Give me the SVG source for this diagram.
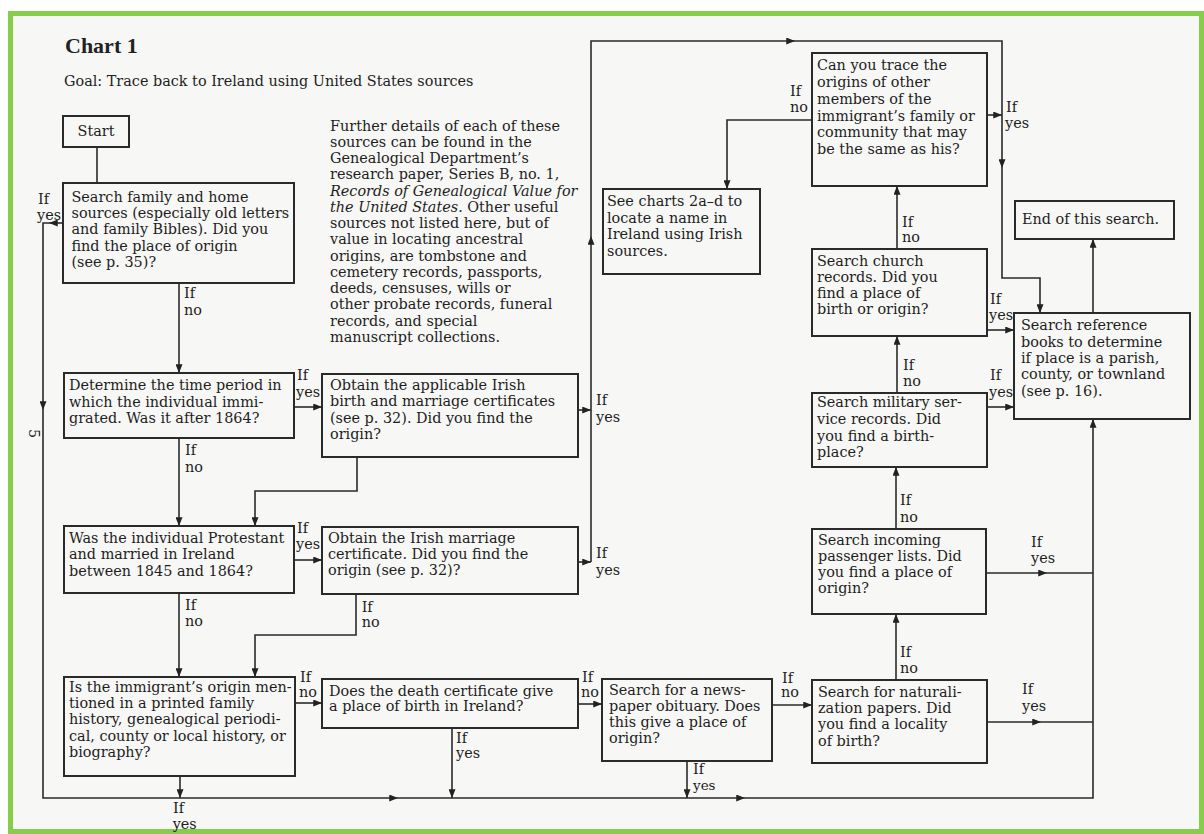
<svg xmlns="http://www.w3.org/2000/svg" width="1204" height="834" viewBox="0 0 1204 834">
<defs>
<marker id="ah" viewBox="0 0 10 8" markerWidth="9" markerHeight="7" refX="10" refY="4" orient="auto" markerUnits="userSpaceOnUse"><path d="M0,0 L10,4 L0,8 z" fill="#222"/></marker>
<style>
.bx{fill:none;stroke:#2a2a2a;stroke-width:2}
.t{font-family:"DejaVu Serif","Liberation Serif",serif;font-size:14.4px;fill:#1e1e1e}
.c{fill:none;stroke:#2a2a2a;stroke-width:1.6}
.a{marker-end:url(#ah)}
.it{font-style:italic}
</style>
</defs>
<rect x="0" y="0" width="1204" height="834" fill="#ffffff"/>
<rect x="10.5" y="13.5" width="1191" height="818" fill="#f7f7f5" stroke="#88cc4c" stroke-width="5"/>

<g id="title">
<text x="65" y="53" font-family="Liberation Serif, serif" font-weight="bold" font-size="22" fill="#222">Chart 1</text>
<text class="t" x="64" y="86">Goal: Trace back to Ireland using United States sources</text>
</g>

<g id="note" class="t">
<text x="330" y="130.7">Further details of each of these</text>
<text x="330" y="147">sources can be found in the</text>
<text x="330" y="163.2">Genealogical Department’s</text>
<text x="330" y="179.4">research paper, Series B, no. 1,</text>
<text x="330" y="195.6" class="it">Records of Genealogical Value for</text>
<text x="330" y="211.9"><tspan class="it">the United States</tspan>. Other useful</text>
<text x="330" y="228.1">sources not listed here, but of</text>
<text x="330" y="244.3">value in locating ancestral</text>
<text x="330" y="260.6">origins, are tombstone and</text>
<text x="330" y="276.8">cemetery records, passports,</text>
<text x="330" y="293">deeds, censuses, wills or</text>
<text x="330" y="309.3">other probate records, funeral</text>
<text x="330" y="325.5">records, and special</text>
<text x="330" y="341.7">manuscript collections.</text>
</g>

<text class="t" font-size="11" transform="translate(29,429) rotate(90)">5</text>

<g id="start"><rect class="bx" x="63" y="116" width="66" height="31"/><text class="t" x="96" y="136" text-anchor="middle">Start</text></g>

<g id="home"><rect class="bx" x="63" y="183" width="231" height="100"/>
<text class="t"><tspan x="71.5" y="201.7">Search family and home</tspan><tspan x="71.5" y="218.3">sources (especially old letters</tspan><tspan x="71.5" y="234.3">and family Bibles). Did you</tspan><tspan x="71.5" y="250.7">find the place of origin</tspan><tspan x="71.5" y="266.7">(see p. 35)?</tspan></text></g>

<g id="period"><rect class="bx" x="64" y="373" width="230" height="65"/>
<text class="t"><tspan x="69" y="390">Determine the time period in</tspan><tspan x="69" y="406.7">which the individual immi-</tspan><tspan x="69" y="423.3">grated. Was it after 1864?</tspan></text></g>

<g id="protestant"><rect class="bx" x="64" y="526" width="230" height="67"/>
<text class="t"><tspan x="69" y="542.7">Was the individual Protestant</tspan><tspan x="69" y="559.3">and married in Ireland</tspan><tspan x="69" y="576">between 1845 and 1864?</tspan></text></g>

<g id="printed"><rect class="bx" x="64" y="677" width="231" height="99"/>
<text class="t"><tspan x="69" y="691.7">Is the immigrant’s origin men-</tspan><tspan x="69" y="708.3">tioned in a printed family</tspan><tspan x="69" y="724.3">history, genealogical periodi-</tspan><tspan x="69" y="740.7">cal, county or local history, or</tspan><tspan x="69" y="757.3">biography?</tspan></text></g>

<g id="birthmarriage"><rect class="bx" x="322" y="374" width="256" height="83"/>
<text class="t"><tspan x="330" y="390">Obtain the applicable Irish</tspan><tspan x="330" y="406">birth and marriage certificates</tspan><tspan x="330" y="422.7">(see p. 32). Did you find the</tspan><tspan x="330" y="439">origin?</tspan></text></g>

<g id="marriage"><rect class="bx" x="322" y="527" width="256" height="67"/>
<text class="t"><tspan x="328" y="543">Obtain the Irish marriage</tspan><tspan x="328" y="559">certificate. Did you find the</tspan><tspan x="328" y="575">origin (see p. 32)?</tspan></text></g>

<g id="death"><rect class="bx" x="322" y="679" width="256" height="49"/>
<text class="t"><tspan x="329" y="696">Does the death certificate give</tspan><tspan x="329" y="711">a place of birth in Ireland?</tspan></text></g>

<g id="obituary"><rect class="bx" x="602" y="679" width="170" height="82"/>
<text class="t"><tspan x="609" y="695">Search for a news-</tspan><tspan x="609" y="711">paper obituary. Does</tspan><tspan x="609" y="727">this give a place of</tspan><tspan x="609" y="743">origin?</tspan></text></g>

<g id="naturalization"><rect class="bx" x="812" y="680" width="175" height="83"/>
<text class="t"><tspan x="818" y="697">Search for naturali-</tspan><tspan x="818" y="713">zation papers. Did</tspan><tspan x="818" y="729">you find a locality</tspan><tspan x="818" y="746">of birth?</tspan></text></g>

<g id="passenger"><rect class="bx" x="812" y="529" width="174" height="85"/>
<text class="t"><tspan x="818" y="545">Search incoming</tspan><tspan x="818" y="561">passenger lists. Did</tspan><tspan x="818" y="577">you find a place of</tspan><tspan x="818" y="593">origin?</tspan></text></g>

<g id="military"><rect class="bx" x="812" y="393" width="175" height="74"/>
<text class="t"><tspan x="817" y="407">Search military ser-</tspan><tspan x="817" y="424">vice records. Did</tspan><tspan x="817" y="441">you find a birth-</tspan><tspan x="817" y="457">place?</tspan></text></g>

<g id="church"><rect class="bx" x="812" y="249" width="175" height="87"/>
<text class="t"><tspan x="817" y="265.7">Search church</tspan><tspan x="817" y="281.7">records. Did you</tspan><tspan x="817" y="297.7">find a place of</tspan><tspan x="817" y="314">birth or origin?</tspan></text></g>

<g id="family"><rect class="bx" x="812" y="53" width="175" height="133"/>
<text class="t"><tspan x="817" y="70">Can you trace the</tspan><tspan x="817" y="87">origins of other</tspan><tspan x="817" y="104">members of the</tspan><tspan x="817" y="120.7">immigrant’s family or</tspan><tspan x="817" y="137.3">community that may</tspan><tspan x="817" y="154">be the same as his?</tspan></text></g>

<g id="charts"><rect class="bx" x="603" y="189" width="157" height="85"/>
<text class="t"><tspan x="607" y="205.7">See charts 2a–d to</tspan><tspan x="607" y="222.7">locate a name in</tspan><tspan x="607" y="239.3">Ireland using Irish</tspan><tspan x="607" y="256">sources.</tspan></text></g>

<g id="reference"><rect class="bx" x="1014" y="313" width="176" height="106"/>
<text class="t"><tspan x="1021" y="330">Search reference</tspan><tspan x="1021" y="346.7">books to determine</tspan><tspan x="1021" y="362.7">if place is a parish,</tspan><tspan x="1021" y="379.3">county, or townland</tspan><tspan x="1021" y="396">(see p. 16).</tspan></text></g>

<g id="end"><rect class="bx" x="1015" y="201" width="159" height="38"/>
<text class="t" x="1022" y="224">End of this search.</text></g>

<g id="connectors">
<path class="c" d="M97 147 V183"/>
<path class="c a" d="M179 283 V373"/>
<path class="c a" d="M63 223 H49"/>
<path class="c a" d="M49 223 H43 V410"/>
<path class="c a" d="M43 410 V798 H398"/>
<path class="c a" d="M398 798 H745"/>
<path class="c a" d="M745 798 H1093 V419"/>
<path class="c a" d="M294 407 H322"/>
<path class="c a" d="M179 438 V526"/>
<path class="c a" d="M357 457 V491 H255 V526"/>
<path class="c a" d="M294 560 H322"/>
<path class="c a" d="M179 593 V677"/>
<path class="c a" d="M356 594 V635 H255 V677"/>
<path class="c a" d="M180 776 V798"/>
<path class="c a" d="M295 703 H322"/>
<path class="c a" d="M452 728 V798"/>
<path class="c a" d="M578 704 H602"/>
<path class="c a" d="M687 761 V798"/>
<path class="c a" d="M772 705 H812"/>
<path class="c a" d="M987 722 H1041"/>
<path class="c" d="M1041 722 H1093"/>
<path class="c a" d="M896 680 V614"/>
<path class="c a" d="M986 573 H1047"/>
<path class="c" d="M1047 573 H1093"/>
<path class="c a" d="M896 529 V467"/>
<path class="c a" d="M987 407 H1014"/>
<path class="c a" d="M897 393 V336"/>
<path class="c a" d="M987 330 H1014"/>
<path class="c a" d="M897 249 V186"/>
<path class="c a" d="M812 120 H727 V189"/>
<path class="c a" d="M987 115 H1002"/>
<path class="c a" d="M578 410 H591"/>
<path class="c a" d="M578 562 H591"/>
<path class="c a" d="M591 562 V236"/>
<path class="c a" d="M591 236 V41 H795"/>
<path class="c a" d="M795 41 H1002 V168"/>
<path class="c a" d="M1002 168 V278 H1040 V313"/>
<path class="c a" d="M1093 313 V239"/>

<g class="t">
<text x="184" y="298">If</text><text x="184" y="315">no</text>
<text x="38" y="204">If</text><text x="37" y="220">yes</text>
<text x="297" y="380">If</text><text x="296" y="396.7">yes</text>
<text x="185" y="455">If</text><text x="185" y="471.7">no</text>
<text x="297" y="533">If</text><text x="296" y="548.5">yes</text>
<text x="185" y="610">If</text><text x="185" y="626">no</text>
<text x="361.7" y="611.7">If</text><text x="361.7" y="627">no</text>
<text x="173" y="813">If</text><text x="172.7" y="829">yes</text>
<text x="300" y="682">If</text><text x="299" y="697">no</text>
<text x="456" y="743">If</text><text x="456" y="758">yes</text>
<text x="582" y="682">If</text><text x="581" y="697">no</text>
<text x="693" y="774">If</text><text x="693" y="790" font-size="13.5">yes</text>
<text x="782" y="683">If</text><text x="781" y="697">no</text>
<text x="1022" y="694">If</text><text x="1022" y="711">yes</text>
<text x="900" y="657">If</text><text x="900" y="673">no</text>
<text x="1031" y="547">If</text><text x="1031" y="563">yes</text>
<text x="900" y="505">If</text><text x="900" y="522">no</text>
<text x="990" y="380">If</text><text x="989" y="396.7">yes</text>
<text x="903" y="370">If</text><text x="903" y="386">no</text>
<text x="990" y="304">If</text><text x="989" y="320">yes</text>
<text x="902" y="227">If</text><text x="902" y="242">no</text>
<text x="790" y="96">If</text><text x="790" y="112">no</text>
<text x="1006" y="112">If</text><text x="1005" y="128">yes</text>
<text x="596" y="405">If</text><text x="596" y="421.7">yes</text>
<text x="596" y="558.3">If</text><text x="596" y="575">yes</text>
</g>
</g>
</svg>
